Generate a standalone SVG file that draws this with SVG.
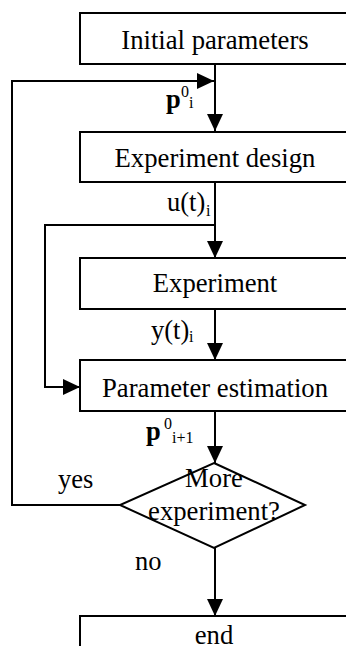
<svg xmlns="http://www.w3.org/2000/svg" width="346" height="646" viewBox="0 0 346 646">
<style>
  .box { fill: #fff; stroke: #000; stroke-width: 2; }
  .dia { fill: none; stroke: #000; stroke-width: 2; }
  .line { fill: none; stroke: #000; stroke-width: 2; }
  text { font-family: "Times New Roman", "Liberation Serif", "Noto Serif", "DejaVu Serif", serif; fill: #000; }
  .t { font-size: 26.7px; text-anchor: middle; }
  .lbl { font-size: 26.5px; }
  .sm { font-size: 16px; }
</style>
<defs>
  <marker id="arr" markerUnits="userSpaceOnUse" markerWidth="17" markerHeight="16" refX="17" refY="8" orient="auto">
    <path d="M0,0 L17,8 L0,16 z" fill="#000"/>
  </marker>
</defs>
<rect width="346" height="646" fill="#fff"/>
<g id="connectors">
  <path class="line" d="M215,64 V131" marker-end="url(#arr)"/>
  <path class="line" d="M215,182 V258" marker-end="url(#arr)"/>
  <path class="line" d="M215,309 V360" marker-end="url(#arr)"/>
  <path class="line" d="M215,411 V463" marker-end="url(#arr)"/>
  <path class="line" d="M215,548 V616" marker-end="url(#arr)"/>
  <path class="line" d="M120,505 H12 V81 H214" marker-end="url(#arr)"/>
  <path class="line" d="M215,225 H45 V387 H80" marker-end="url(#arr)"/>
  <text class="lbl" x="166" y="108" font-weight="bold">p</text>
  <text class="sm" x="181" y="97">0</text>
  <text class="sm" x="189" y="108">i</text>
  <text class="lbl" x="167" y="211">u(t)</text>
  <text class="sm" x="206" y="216">i</text>
  <text class="lbl" x="151" y="339">y(t)</text>
  <text class="sm" x="189" y="342">i</text>
  <text class="lbl" x="146" y="440" font-weight="bold">p</text>
  <text class="sm" x="164" y="429">0</text>
  <text class="sm" x="172" y="443">i+1</text>
  <text class="lbl" x="58" y="488">yes</text>
  <text class="lbl" x="135" y="570">no</text>
</g>
<g id="initial">
  <rect class="box" x="80" y="13" width="275" height="51"/>
  <text class="t" x="215" y="49">Initial parameters</text>
</g>
<g id="design">
  <rect class="box" x="80" y="132" width="275" height="50"/>
  <text class="t" x="215" y="167">Experiment design</text>
</g>
<g id="experiment">
  <rect class="box" x="80" y="258" width="275" height="51"/>
  <text class="t" x="215" y="292">Experiment</text>
</g>
<g id="estimation">
  <rect class="box" x="80" y="360" width="275" height="51"/>
  <text class="t" x="215" y="397">Parameter estimation</text>
</g>
<g id="decision">
  <path class="dia" d="M214,463 L305,505 L214,548 L120,505 Z"/>
  <text class="t" x="214" y="487">More</text>
  <text class="t" x="214" y="520">experiment?</text>
</g>
<g id="end">
  <rect class="box" x="80" y="616" width="275" height="60"/>
  <text class="t" x="214" y="644">end</text>
</g>
</svg>
